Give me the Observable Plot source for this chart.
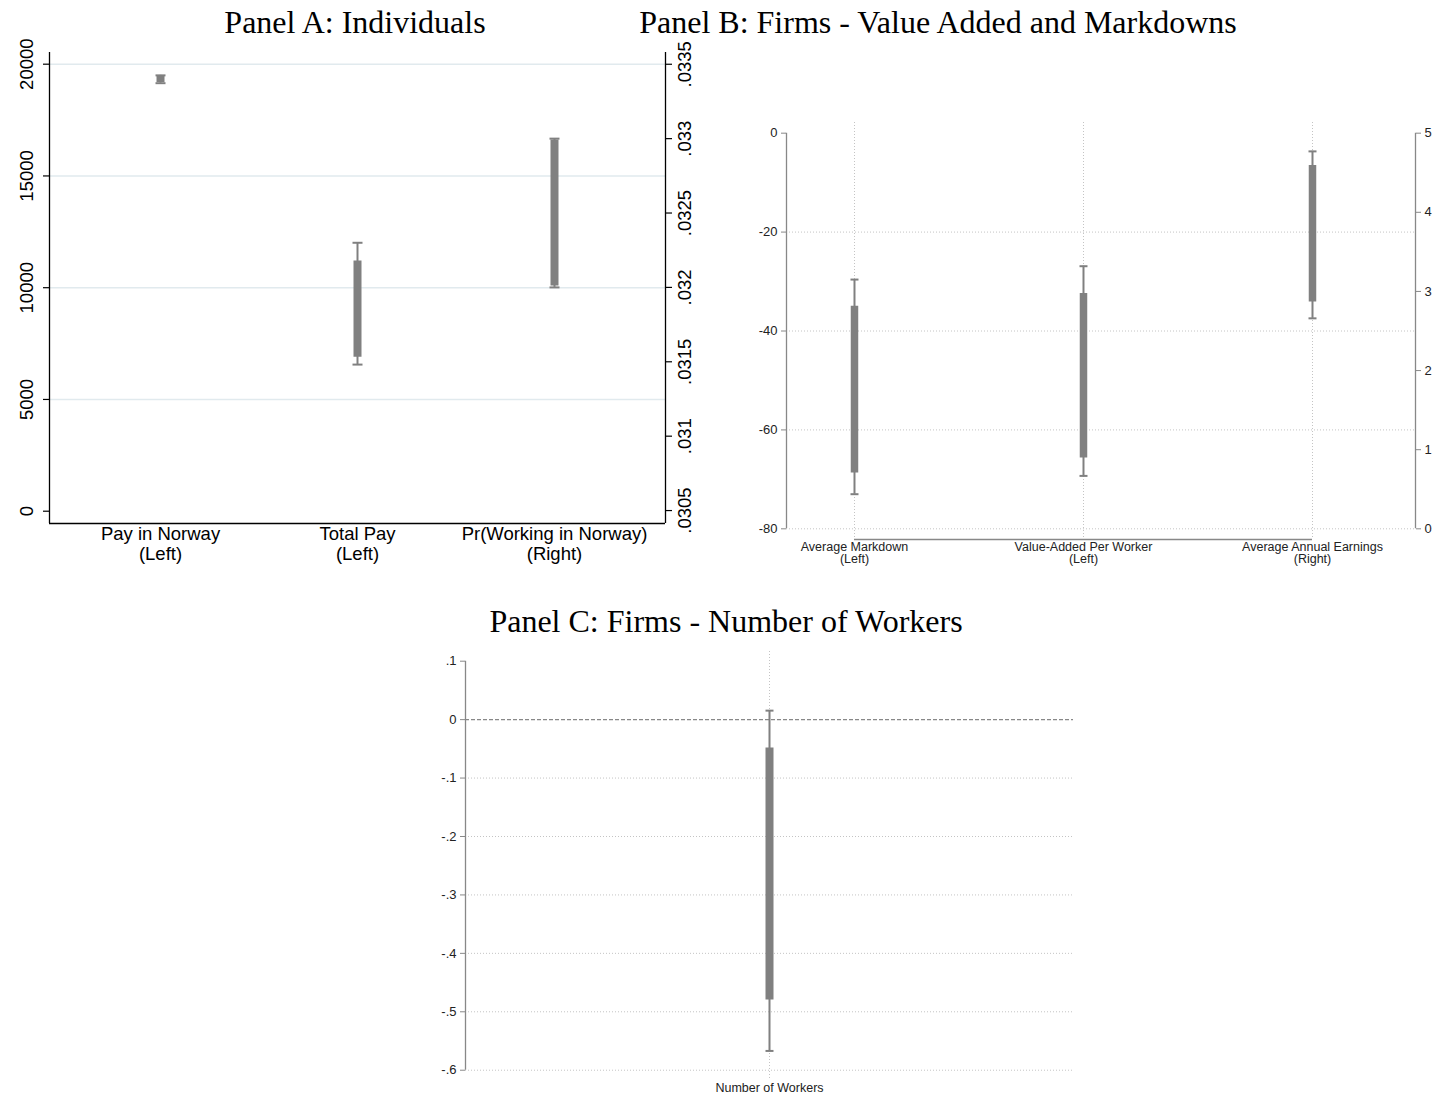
<!DOCTYPE html>
<html><head><meta charset="utf-8">
<script src="https://cdn.jsdelivr.net/npm/d3@7"></script>
<script src="https://cdn.jsdelivr.net/npm/@observablehq/plot@0.6"></script>
<style>
body{margin:0;background:#fff;}
#root{position:relative;width:1435px;height:1099px;background:#fff;overflow:hidden;}
.panel{position:absolute;}
.panel svg{position:absolute;left:0;top:0;}
.title{position:absolute;font-family:"Liberation Serif","Times New Roman",serif;font-size:32px;color:#000;white-space:nowrap;transform:translateX(-50%);line-height:1;}
</style></head><body><div id="root"></div>
<script>
// ---------- Panel A: Individuals ----------
const catsA = ["Pay in Norway\n(Left)", "Total Pay\n(Left)", "Pr(Working in Norway)\n(Right)"];
const sideA = ["left", "left", "right"];
const lo95A = [19150, 6560, 0.03200];
const hi95A = [19500, 12010, 0.03300];
const lo90A = [19180, 6890, 0.03201];
const hi90A = [19470, 11190, 0.03299];
const leftTicksA = [0, 5000, 10000, 15000, 20000];
const gridTicksA = [5000, 10000, 15000, 20000];
const rightTicksA = [0.0305, 0.031, 0.0315, 0.032, 0.0325, 0.033, 0.0335];
const rightTickLabelsA = [".0305", ".031", ".0315", ".032", ".0325", ".033", ".0335"];

// ---------- Panel B: Firms - Value Added and Markdowns ----------
const catsB = ["Average Markdown\n(Left)", "Value-Added Per Worker\n(Left)", "Average Annual Earnings\n(Right)"];
const sideB = ["left", "left", "right"];
const lo95B = [-73.0, -69.3, 2.66];
const hi95B = [-29.6, -26.9, 4.77];
const lo90B = [-68.7, -65.7, 2.865];
const hi90B = [-35.0, -32.4, 4.59];
const leftTicksB = [0, -20, -40, -60, -80];
const gridTicksB = [-20, -40, -60, -80];
const rightTicksB = [0, 1, 2, 3, 4, 5];

// ---------- Panel C: Firms - Number of Workers ----------
const catsC = ["Number of Workers"];
const lo95C = [-0.567];
const hi95C = [0.0154];
const lo90C = [-0.480];
const hi90C = [-0.0485];
const ticksC = [0.1, 0, -0.1, -0.2, -0.3, -0.4, -0.5, -0.6];
const tickLabelsC = [".1", "0", "-.1", "-.2", "-.3", "-.4", "-.5", "-.6"];
const gridTicksC = [-0.1, -0.2, -0.3, -0.4, -0.5, -0.6];

const GRAY = "#808080";
const SANS = "'Liberation Sans', Arial, Helvetica, sans-serif";

function rowsOf(cats, side, lo95, hi95, lo90, hi90) {
  return cats.map((c, k) => ({i: k + 1, cat: c, side: side ? side[k] : "left",
    lo95: lo95[k], hi95: hi95[k], lo90: lo90[k], hi90: hi90[k]}));
}
const capSymbol = {draw(ctx, size) { const h = Math.sqrt(size / Math.PI); ctx.moveTo(-h, 0); ctx.lineTo(h, 0); }};
function ciMarks(rows, capR, thick) {
  return [
    Plot.ruleX(rows, {x: "i", y1: "lo95", y2: "hi95", stroke: GRAY, strokeWidth: 2}),
    Plot.ruleX(rows, {x: "i", y1: "lo90", y2: "hi90", stroke: GRAY, strokeWidth: thick}),
    Plot.dot(rows, {x: "i", y: "lo95", symbol: capSymbol, r: capR, stroke: GRAY, strokeWidth: 2, fill: "none"}),
    Plot.dot(rows, {x: "i", y: "hi95", symbol: capSymbol, r: capR, stroke: GRAY, strokeWidth: 2, fill: "none"})
  ];
}
function addPanel(left, top, w, h, svgs) {
  const d = document.createElement("div");
  d.className = "panel";
  d.style.left = left + "px"; d.style.top = top + "px";
  d.style.width = w + "px"; d.style.height = h + "px";
  svgs.forEach(s => d.appendChild(s));
  document.getElementById("root").appendChild(d);
}
function addTitle(text, cx, top) {
  const t = document.createElement("div");
  t.className = "title"; t.textContent = text;
  t.style.left = cx + "px"; t.style.top = top + "px";
  document.getElementById("root").appendChild(t);
}

// ===== Panel A =====
{
  const rows = rowsOf(catsA, sideA, lo95A, hi95A, lo90A, hi90A);
  const dims = {width: 720, height: 575, marginTop: 52, marginLeft: 49, marginRight: 55, marginBottom: 52};
  const xDom = [0.4365, 3.5635];
  const yDomL = [-550, 20523];
  const yDomR = [0.030413, 0.033579];
  const style = {fontFamily: SANS, fontSize: "18.5px", color: "#000", background: "transparent", overflow: "visible"};
  const pL = Plot.plot({
    ...dims, style,
    x: {type: "linear", domain: xDom},
    y: {domain: yDomL},
    marks: [
      Plot.gridY(gridTicksA, {stroke: "#e1eaee", strokeOpacity: 1, strokeWidth: 1.5}),
      Plot.axisY({ticks: leftTicksA, label: null, tickSize: 6, tickRotate: -90, tickPadding: 11, tickFormat: d => String(d), stroke: "#000", strokeWidth: 1.2}),
      Plot.axisX({ticks: rows.map(r => r.i), label: null, tickFormat: i => catsA[i - 1], tickSize: 0, tickPadding: 3, lineHeight: 1.05}),
      Plot.ruleX([xDom[0]], {stroke: "#000", strokeWidth: 1.3}),
      Plot.ruleX([xDom[1]], {stroke: "#000", strokeWidth: 1.3}),
      Plot.ruleY([yDomL[0]], {stroke: "#000", strokeWidth: 1.3}),
      ...ciMarks(rows.filter(r => r.side === "left"), 5, 8)
    ]
  });
  const pR = Plot.plot({
    ...dims, style,
    x: {type: "linear", domain: xDom, axis: null},
    y: {domain: yDomR},
    marks: [
      Plot.axisY({anchor: "right", ticks: rightTicksA, label: null, tickSize: 6, tickRotate: -90, tickPadding: 6, lineAnchor: "top",
        tickFormat: d => rightTickLabelsA[rightTicksA.indexOf(d)], stroke: "#000", strokeWidth: 1.2}),
      ...ciMarks(rows.filter(r => r.side === "right"), 5, 8)
    ]
  });
  addPanel(0, 0, 720, 575, [pL, pR]);
  addTitle("Panel A: Individuals", 355, 6);
}

// ===== Panel B =====
{
  const rows = rowsOf(catsB, sideB, lo95B, hi95B, lo90B, hi90B);
  const dims = {width: 735, height: 575, marginTop: 122, marginLeft: 86, marginRight: 20, marginBottom: 36};
  const xDom = [0.7031, 3.4498];
  const yDomL = [-82.16, 2.16];
  const yDomR = [-0.135, 5.135];
  const style = {fontFamily: SANS, fontSize: "13px", color: "#222", background: "transparent", overflow: "visible"};
  const grid = {stroke: "#c4c4c4", strokeOpacity: 1, strokeDasharray: "1,2", strokeWidth: 1};
  const pL = Plot.plot({
    ...dims, style,
    x: {type: "linear", domain: xDom},
    y: {domain: yDomL},
    marks: [
      Plot.gridY(gridTicksB, grid),
      Plot.gridX(rows.map(r => r.i), grid),
      Plot.axisY({ticks: leftTicksB, label: null, tickSize: 5, tickPadding: 4, tickFormat: d => String(d), stroke: "#888"}),
      Plot.axisX({ticks: rows.map(r => r.i), label: null, tickFormat: i => catsB[i - 1], tickSize: 0, tickPadding: 3, lineHeight: 0.95, fontSize: 12.5}),
      Plot.ruleX([{x: xDom[0], y1: d3.max(leftTicksB), y2: d3.min(leftTicksB)}], {x: "x", y1: "y1", y2: "y2", stroke: "#888", strokeWidth: 1.3}),
      Plot.ruleY([{y: yDomL[0], x1: 1, x2: rows.length}], {y: "y", x1: "x1", x2: "x2", stroke: "#888", strokeWidth: 1.3}),
      ...ciMarks(rows.filter(r => r.side === "left"), 4, 7.5)
    ]
  });
  const pR = Plot.plot({
    ...dims, style,
    x: {type: "linear", domain: xDom, axis: null},
    y: {domain: yDomR},
    marks: [
      Plot.axisY({anchor: "right", ticks: rightTicksB, label: null, tickSize: 5, tickPadding: 4, tickFormat: d => String(d), stroke: "#888"}),
      Plot.ruleX([{x: xDom[1], y1: d3.max(rightTicksB), y2: d3.min(rightTicksB)}], {x: "x", y1: "y1", y2: "y2", stroke: "#888", strokeWidth: 1.3}),
      ...ciMarks(rows.filter(r => r.side === "right"), 4, 7.5)
    ]
  });
  addPanel(700, 0, 735, 575, [pL, pR]);
  addTitle("Panel B: Firms - Value Added and Markdowns", 938, 6);
}

// ===== Panel C =====
{
  const rows = rowsOf(catsC, null, lo95C, hi95C, lo90C, hi90C);
  const dims = {width: 720, height: 499, marginTop: 51, marginLeft: 85, marginRight: 27, marginBottom: 19};
  const xDom = [0.5, 1.5];
  const yDom = [-0.6176, 0.1166];
  const style = {fontFamily: SANS, fontSize: "13px", color: "#222", background: "transparent", overflow: "visible"};
  const grid = {stroke: "#c4c4c4", strokeOpacity: 1, strokeDasharray: "1,2", strokeWidth: 1};
  const p = Plot.plot({
    ...dims, style,
    x: {type: "linear", domain: xDom},
    y: {domain: yDom},
    marks: [
      Plot.gridY(gridTicksC, grid),
      Plot.gridX(rows.map(r => r.i), grid),
      Plot.ruleY([0], {stroke: "#888", strokeDasharray: "4,2", strokeWidth: 1.2}),
      Plot.axisY({ticks: ticksC, label: null, tickSize: 5, tickPadding: 4, tickFormat: d => tickLabelsC[ticksC.indexOf(d)], stroke: "#888"}),
      Plot.axisX({ticks: rows.map(r => r.i), label: null, tickFormat: i => catsC[i - 1], tickSize: 0, tickPadding: 3, fontSize: 12.5}),
      Plot.ruleX([{x: xDom[0], y1: d3.max(ticksC), y2: d3.min(ticksC)}], {x: "x", y1: "y1", y2: "y2", stroke: "#888", strokeWidth: 1.3}),
      ...ciMarks(rows, 4, 8)
    ]
  });
  addPanel(380, 600, 720, 499, [p]);
  addTitle("Panel C: Firms - Number of Workers", 726, 605);
}
</script>
</body></html>
